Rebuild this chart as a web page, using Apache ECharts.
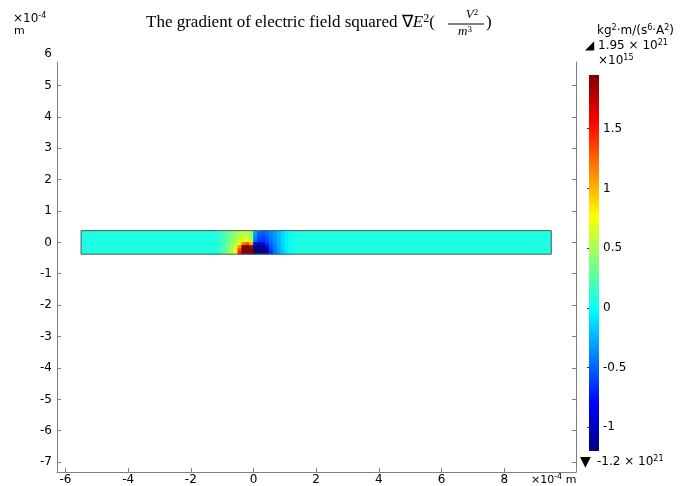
<!DOCTYPE html>
<html><head><meta charset="utf-8">
<script src="https://cdn.jsdelivr.net/npm/echarts@6/dist/echarts.min.js"></script>
<style>html,body{margin:0;padding:0;background:#fff}#c{width:689px;height:486px}</style>
</head><body><div id="c"></div>
<script>
// ---- data ----
const xTickValues = [-6, -4, -2, 0, 2, 4, 6, 8];
const yTickValues = [-7, -6, -5, -4, -3, -2, -1, 0, 1, 2, 3, 4, 5];
const colorbarTicks = [-1, -0.5, 0, 0.5, 1, 1.5];
const colorbarTickLabels = ['-1', '-0.5', '0', '0.5', '1', '1.5'];
const valueMin = -1.2;
const valueMax = 1.95;
const domainX = [-5.5, 9.5];
const domainY = [-0.375, 0.375];
const backgroundValue = 0.07;
const cellXCenters = [-1.4375, -1.3125, -1.1875, -1.0625, -0.9375, -0.8125, -0.6875, -0.5625,
  -0.4375, -0.3125, -0.1875, -0.0625, 0.0625, 0.1875, 0.3125, 0.4375,
  0.5625, 0.6875, 0.8125, 0.9375, 1.0625, 1.1875, 1.3125, 1.4375];
const cellYCenters = [0.328, 0.234, 0.141, 0.047, -0.047, -0.141, -0.234, -0.328];
// columns of values (top row to bottom row), one list per x cell
const cellColumns = [
  [0.07, 0.07, 0.07, 0.07, 0.07, 0.07, 0.07, 0.07],
  [0.07, 0.07, 0.07, 0.07, 0.07, 0.07, 0.07, 0.07],
  [0.08, 0.08, 0.08, 0.08, 0.08, 0.08, 0.08, 0.08],
  [0.12, 0.12, 0.12, 0.13, 0.13, 0.14, 0.14, 0.14],
  [0.20, 0.20, 0.20, 0.21, 0.22, 0.23, 0.24, 0.25],
  [0.28, 0.28, 0.29, 0.30, 0.32, 0.34, 0.36, 0.38],
  [0.36, 0.37, 0.38, 0.40, 0.43, 0.47, 0.50, 0.53],
  [0.45, 0.46, 0.48, 0.52, 0.57, 0.64, 0.72, 0.78],
  [0.52, 0.54, 0.57, 0.62, 0.75, 1.10, 1.35, 1.50],
  [0.56, 0.58, 0.63, 0.72, 1.20, 1.90, 1.95, 1.95],
  [0.55, 0.57, 0.63, 0.74, 1.30, 1.95, 1.95, 1.95],
  [0.40, 0.43, 0.48, 0.55, 1.00, 1.80, 1.95, 1.95],
  [-0.30, -0.33, -0.38, -0.45, -0.85, -1.15, -1.20, -1.20],
  [-0.50, -0.53, -0.58, -0.66, -0.95, -1.20, -1.20, -1.20],
  [-0.52, -0.55, -0.60, -0.66, -0.90, -1.20, -1.20, -1.20],
  [-0.48, -0.50, -0.53, -0.58, -0.68, -0.90, -1.05, -1.10],
  [-0.40, -0.41, -0.43, -0.46, -0.50, -0.55, -0.62, -0.68],
  [-0.32, -0.33, -0.34, -0.36, -0.38, -0.41, -0.44, -0.47],
  [-0.22, -0.23, -0.24, -0.25, -0.27, -0.28, -0.30, -0.32],
  [-0.13, -0.13, -0.14, -0.15, -0.16, -0.17, -0.18, -0.19],
  [-0.05, -0.05, -0.06, -0.06, -0.07, -0.07, -0.08, -0.08],
  [0.02, 0.02, 0.02, 0.02, 0.02, 0.02, 0.02, 0.02],
  [0.06, 0.06, 0.06, 0.06, 0.06, 0.06, 0.06, 0.06],
  [0.07, 0.07, 0.07, 0.07, 0.07, 0.07, 0.07, 0.07]
];
const jetColors = ['#000080', '#0000ff', '#0080ff', '#00ffff', '#80ff80', '#ffff00', '#ff8000', '#ff0000', '#800000'];

// ---- build series data ----
const cellW = cellXCenters[1] - cellXCenters[0];
const cellH = cellYCenters[0] - cellYCenters[1];
const cellData = [];
cellXCenters.forEach((xc, i) => {
  cellYCenters.forEach((yc, j) => {
    cellData.push([xc - cellW / 2, xc + cellW / 2, yc - cellH / 2, yc + cellH / 2, cellColumns[i][j]]);
  });
});
const backgroundData = [[domainX[0], domainX[1], domainY[0], domainY[1], backgroundValue]];

function rectItem(params, api) {
  const p0 = api.coord([api.value(0), api.value(3)]);
  const p1 = api.coord([api.value(1), api.value(2)]);
  const c = api.visual('color');
  return {
    type: 'rect',
    shape: { x: p0[0], y: p0[1], width: p1[0] - p0[0], height: p1[1] - p0[1] },
    style: { fill: c, stroke: c, lineWidth: 0.6 }
  };
}
function borderItem(params, api) {
  const p0 = api.coord([api.value(0), api.value(3)]);
  const p1 = api.coord([api.value(1), api.value(2)]);
  return {
    type: 'rect',
    shape: { x: p0[0], y: p0[1], width: p1[0] - p0[0], height: p1[1] - p0[1] },
    style: { fill: 'none', stroke: '#5a5a5a', lineWidth: 1 }
  };
}
function colorbarItem(params, api) {
  const p0 = api.coord([0, api.value(1)]);
  const p1 = api.coord([1, api.value(0)]);
  const n = jetColors.length;
  const stops = jetColors.map((c, k) => ({ offset: k / (n - 1), color: jetColors[n - 1 - k] }));
  return {
    type: 'rect',
    shape: { x: p0[0], y: p0[1], width: p1[0] - p0[0], height: p1[1] - p0[1] },
    style: { fill: { type: 'linear', x: 0, y: 0, x2: 0, y2: 1, colorStops: stops } }
  };
}

const axisGray = '#808080';
const labelFont = { color: '#000', fontFamily: 'DejaVu Sans', fontSize: 12 };
const supRich = { s: { fontFamily: 'DejaVu Sans', fontSize: 8, lineHeight: 8, verticalAlign: 'top', fill: '#000' } };
function label(x, y, text, size) {
  return { type: 'text', x: x, y: y, style: { text: text, fontFamily: 'DejaVu Sans', fontSize: size || 12,
    lineHeight: 14, fill: '#000', verticalAlign: 'middle', rich: supRich } };
}
const chart = echarts.init(document.getElementById('c'), null, { renderer: 'canvas' });
chart.setOption({
  animation: false,
  backgroundColor: '#fff',
  grid: [
    { left: 57, top: 62, width: 519, height: 410 },
    { left: 57, top: 54.1, width: 519, height: 408.2 },
    { left: 589, top: 75, width: 10, height: 376 }
  ],
  xAxis: [
    { type: 'value', gridIndex: 0, min: -6.27, max: 10.29,
      axisLine: { onZero: false, lineStyle: { color: axisGray } },
      axisTick: { inside: true, length: 4, customValues: xTickValues, lineStyle: { color: axisGray } },
      axisLabel: Object.assign({ customValues: xTickValues, margin: 2 }, labelFont),
      splitLine: { show: false } },
    { type: 'value', gridIndex: 1, min: 0, max: 1, show: false },
    { type: 'value', gridIndex: 2, min: 0, max: 1, show: false }
  ],
  yAxis: [
    { type: 'value', gridIndex: 0, min: -7.32, max: 5.75,
      axisLine: { onZero: false, lineStyle: { color: axisGray } },
      axisTick: { inside: true, length: 4, customValues: yTickValues, lineStyle: { color: axisGray } },
      axisLabel: { show: false }, splitLine: { show: false } },
    { type: 'value', gridIndex: 0, position: 'right', min: -7.32, max: 5.75,
      axisLine: { onZero: false, lineStyle: { color: axisGray } },
      axisTick: { inside: true, length: 4, customValues: yTickValues, lineStyle: { color: axisGray } },
      axisLabel: { show: false }, splitLine: { show: false } },
    { type: 'value', gridIndex: 1, min: -7, max: 6, interval: 1,
      axisLine: { show: false }, axisTick: { show: false },
      axisLabel: Object.assign({ margin: 5 }, labelFont), splitLine: { show: false } },
    { type: 'value', gridIndex: 2, position: 'right', min: valueMin, max: valueMax,
      axisLine: { show: false },
      axisTick: { show: true, inside: true, length: 2, customValues: colorbarTicks, lineStyle: { color: '#333' } },
      axisLabel: Object.assign({ customValues: colorbarTicks, margin: 4,
        formatter: v => colorbarTickLabels[colorbarTicks.indexOf(v)] }, labelFont),
      splitLine: { show: false } }
  ],
  visualMap: {
    type: 'continuous', show: false, min: valueMin, max: valueMax, dimension: 4,
    seriesIndex: [0, 1], inRange: { color: jetColors }
  },
  series: [
    { type: 'custom', xAxisIndex: 0, yAxisIndex: 0, renderItem: rectItem, data: backgroundData,
      encode: { x: [0, 1], y: [2, 3] }, silent: true },
    { type: 'custom', xAxisIndex: 0, yAxisIndex: 0, renderItem: rectItem, data: cellData,
      encode: { x: [0, 1], y: [2, 3] }, silent: true },
    { type: 'custom', xAxisIndex: 0, yAxisIndex: 0, renderItem: borderItem, data: backgroundData,
      encode: { x: [0, 1], y: [2, 3] }, silent: true },
    { type: 'custom', xAxisIndex: 2, yAxisIndex: 3, renderItem: colorbarItem, data: [[valueMin, valueMax]],
      encode: { y: [0, 1] }, silent: true }
  ],
  graphic: [
    { type: 'text', x: 146, y: 23, style: { text: 'The gradient of electric field squared ∇{e|E}{s|2}(',
        fontFamily: 'Liberation Serif', fontSize: 17, lineHeight: 20, fill: '#000', verticalAlign: 'middle',
        rich: { e: { fontFamily: 'Liberation Serif', fontStyle: 'italic', fontSize: 17, lineHeight: 20, fill: '#000' },
                s: { fontFamily: 'Liberation Serif', fontSize: 12, lineHeight: 12, verticalAlign: 'top', fill: '#000' } } } },
    { type: 'text', x: 472, y: 15, style: { text: '{v|V}{s|2}', fontFamily: 'Liberation Serif', fontSize: 13, lineHeight: 14, fill: '#000', align: 'center', verticalAlign: 'middle',
        rich: { v: { fontFamily: 'Liberation Serif', fontStyle: 'italic', fontSize: 13, lineHeight: 14, fill: '#000' },
                s: { fontFamily: 'Liberation Serif', fontSize: 9, lineHeight: 9, verticalAlign: 'top', fill: '#000' } } } },
    { type: 'line', shape: { x1: 448, y1: 24, x2: 484, y2: 24 }, style: { stroke: '#000', lineWidth: 1 } },
    { type: 'text', x: 465, y: 32, style: { text: '{v|m}{s|3}', fontFamily: 'Liberation Serif', fontSize: 13, lineHeight: 14, fill: '#000', align: 'center', verticalAlign: 'middle',
        rich: { v: { fontFamily: 'Liberation Serif', fontStyle: 'italic', fontSize: 13, lineHeight: 14, fill: '#000' },
                s: { fontFamily: 'Liberation Serif', fontSize: 9, lineHeight: 9, verticalAlign: 'top', fill: '#000' } } } },
    { type: 'text', x: 486, y: 23, style: { text: ')', fontFamily: 'Liberation Serif', fontSize: 17, fill: '#000', verticalAlign: 'middle' } },
    label(13, 19, '×10{s|-4}'),
    label(14, 31, 'm', 11),
    label(531, 480, '×10{s|-4} m', 11),
    label(597, 31, 'kg{s|2}·m/(s{s|6}·A{s|2})'),
    { type: 'text', x: 585, y: 46, style: { text: '◢', fontFamily: 'DejaVu Sans', fontSize: 12, fill: '#000', verticalAlign: 'middle' } },
    label(598, 46, '1.95 × 10{s|21}'),
    label(598, 61, '×10{s|15}'),
    { type: 'text', x: 580, y: 462, style: { text: '▼', fontFamily: 'DejaVu Sans', fontSize: 14, fill: '#000', verticalAlign: 'middle' } },
    label(597, 462, '-1.2 × 10{s|21}')
  ]
});
</script></body></html>
